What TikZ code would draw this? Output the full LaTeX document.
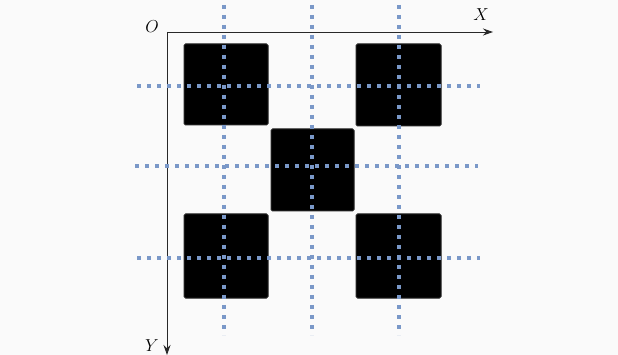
\documentclass[tikz,border=0pt]{standalone}
\usepackage{tikz}
\usetikzlibrary{arrows.meta}
\definecolor{gridblue}{RGB}{122, 152, 200}
\definecolor{paper}{RGB}{250, 250, 250}
\definecolor{axisgray}{RGB}{40, 40, 40}

\begin{document}
\begin{tikzpicture}[x=1pt, y=-1pt,
  gridline/.style={gridblue, line width=3.8pt, dash pattern=on 3.8pt off 6.2pt},
  axisline/.style={-{Stealth[length=10pt, width=7pt]}, line width=0.9pt, axisgray},
  block/.style={fill=black, draw=black!85, line width=1pt, rounded corners=1.5pt},
  axislabel/.style={font=\fontsize{17}{20}\selectfont\itshape, inner sep=0pt}]
\useasboundingbox[fill=paper] (0,0) rectangle (618,355);
% axes
\coordinate (O) at (167,32);
\coordinate (xend) at (493,32);
\coordinate (yend) at (167,355);
\draw[axisline] (O) -- (xend);
\draw[axisline] (O) -- (yend);
\node[axislabel] (olabel) at (152,27) {$O$};
\node[axislabel] (xlabel) at (481,15) {$X$};
\node[axislabel] (ylabel) at (152,346) {$Y$};
% square blocks
\fill[block] (184,44) rectangle (268,125);
\fill[block] (356,44) rectangle (441,126);
\fill[block] (271,129) rectangle (354,211);
\fill[block] (184,214) rectangle (268,298);
\fill[block] (356,214) rectangle (441,298);
% dotted grid lines
\draw[gridline] (224,5) -- (224,335);
\draw[gridline] (312,5) -- (312,335);
\draw[gridline] (399,5) -- (399,335);
\draw[gridline] (137,86) -- (480,86);
\draw[gridline] (135,166) -- (478,166);
\draw[gridline] (137,258) -- (480,258);
\end{tikzpicture}
\end{document}
